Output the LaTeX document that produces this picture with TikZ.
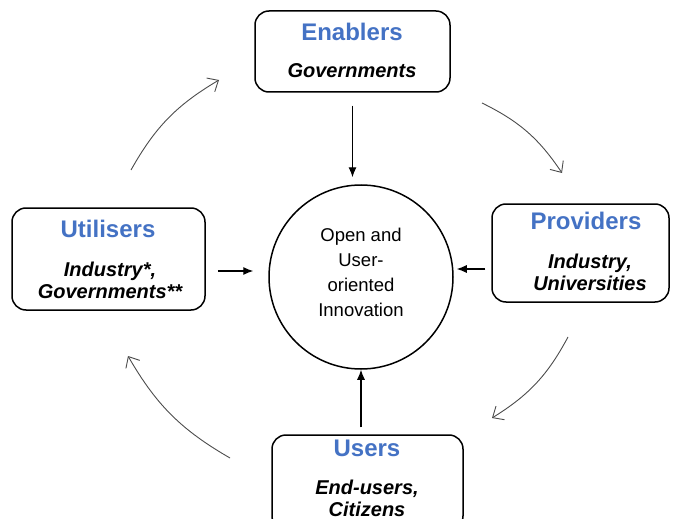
\documentclass[tikz,border=0pt]{standalone}
\usepackage{fontspec}
\setmainfont{Liberation Sans}
\usetikzlibrary{arrows.meta}
\definecolor{titleblue}{RGB}{68,114,196}

\tikzset{
  box/.style={draw, rounded corners=14, line width=1.5},
  title/.style={text=titleblue, font=\fontsize{24}{28}\selectfont\bfseries},
  who/.style={align=center, font=\fontsize{20}{22}\selectfont\bfseries\itshape},
  push/.style={-{Latex[length=10,width=8]}, line width=1.1},
  flow/.style={-{Straight Barb[length=9,width=16]}, line width=0.9, gray!60!black, bend left=15},
}

\begin{document}
\begin{tikzpicture}[x=1pt, y=-1pt]
        \useasboundingbox (0,0) rectangle (673,519);
        \clip (0,0) rectangle (673,519);

        % centre
        \node[draw, circle, line width=1.5, minimum size=184] (ring) at (361,277) {};
        \node[align=center, font=\fontsize{18.5}{25}\selectfont] (ringt) at (361,272)
              {Open and\\User-\\oriented\\Innovation};

        % the four roles
        \node[box, minimum width=195, minimum height=81] (enab) at (352.5,51.5) {};
        \node[title] (enabt) at (352,32) {Enablers};
        \node[who] (enabw) at (352,71) {Governments};

        \node[box, minimum width=193, minimum height=102] (util) at (108.5,259) {};
        \node[title] (utilt) at (108,229) {Utilisers};
        \node[who] (utilw) at (110,280) {Industry*,\\Governments**};

        \node[box, minimum width=177, minimum height=98] (prov) at (580.5,253) {};
        \node[title] (provt) at (586,221) {Providers};
        \node[who] (provw) at (590,272) {Industry,\\Universities};

        \node[box, minimum width=191, minimum height=95] (users) at (367.5,482.5) {};
        \node[title] (userst) at (367,448) {Users};
        \node[who] (usersw) at (367,498) {End-users,\\Citizens};

        \draw[push, shorten <=13, shorten >=7] (enab.south) -- (enab.south |- ring.north);
        \draw[push, shorten <=12, shorten >=15] ([yshift=-12pt]util.east) -- ([yshift=-12pt]util.east -| ring.west);
        \draw[push, shorten <=6, shorten >=3] ([yshift=-16pt]prov.west) -- ([yshift=-16pt]prov.west -| ring.east);
        \draw[push, shorten <=7] (users.north -| ring.south) -- (ring.south);

        % cycle
        \coordinate (c1) at (131,170);
        \coordinate (c2) at (219,80);
        \coordinate (c3) at (482,103);
        \coordinate (c4) at (562,173);
        \coordinate (c5) at (568,337);
        \coordinate (c6) at (492,418);
        \coordinate (c7) at (230,458);
        \coordinate (c8) at (128,356);

        \draw[flow] (c1) to (c2);
        \draw[flow] (c3) to (c4);
        \draw[flow] (c5) to (c6);
        \draw[flow] (c7) to (c8);
\end{tikzpicture}
\end{document}
